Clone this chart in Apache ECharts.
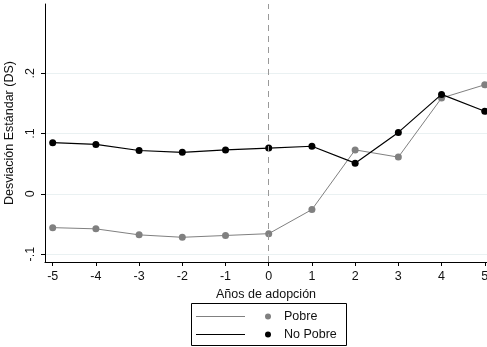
<!DOCTYPE html>
<html>
<head>
<meta charset="utf-8">
<script src="https://cdn.jsdelivr.net/npm/echarts@6/dist/echarts.min.js"></script>
<style>html,body{margin:0;padding:0;background:#fff}#c{width:487px;height:347px}</style>
</head>
<body>
<div id="c"></div>
<script>
var years = [-5, -4, -3, -2, -1, 0, 1, 2, 3, 4, 5];
var pobre = [-0.056, -0.058, -0.068, -0.072, -0.069, -0.066, -0.026, 0.073, 0.061, 0.159, 0.181];
var noPobre = [0.085, 0.082, 0.072, 0.069, 0.073, 0.076, 0.079, 0.051, 0.102, 0.165, 0.137];
var yTicks = [-0.1, 0, 0.1, 0.2];
var yTickLabels = ['-.1', '0', '.1', '.2'];
var seriesNames = ['Pobre', 'No Pobre'];

var FONT = 'Liberation Sans, Arial, sans-serif';
var FS = 12.5;
function pairs(xs, ys) { return xs.map(function (x, i) { return [x, ys[i]]; }); }

var chart = echarts.init(document.getElementById('c'), null, {renderer: 'canvas'});
chart.setOption({
  animation: false,
  backgroundColor: '#fff',
  grid: {left: 45, right: 0, top: 4, bottom: 85, containLabel: false, outerBoundsMode: 'none'},
  xAxis: {
    type: 'value', min: -5.178, max: 5.052,
    axisLine: {show: true, onZero: false, lineStyle: {color: '#000', width: 1}},
    axisTick: {show: true, length: 4, lineStyle: {color: '#000'}, customValues: years},
    axisLabel: {show: true, color: '#111', fontFamily: FONT, fontSize: FS, margin: 8, customValues: years,
      formatter: function (v) { return String(v); }},
    splitLine: {show: false},
    name: 'Años de adopción', nameLocation: 'middle', nameGap: 22,
    nameTextStyle: {color: '#111', fontFamily: FONT, fontSize: FS}
  },
  yAxis: {
    type: 'value', min: -0.113, max: 0.315,
    axisLine: {show: true, onZero: false, lineStyle: {color: '#000', width: 1}},
    axisTick: {show: true, length: 4, lineStyle: {color: '#000'}, customValues: yTicks},
    axisLabel: {show: true, color: '#111', fontFamily: FONT, fontSize: FS, rotate: 90, margin: 8,
      customValues: yTicks,
      formatter: function (v) {
        for (var i = 0; i < yTicks.length; i++) if (Math.abs(v - yTicks[i]) < 1e-9) return yTickLabels[i];
        return '';
      }},
    splitLine: {show: true, lineStyle: {color: '#eaf1f2', width: 1}},
    name: 'Desviación Estándar (DS)', nameLocation: 'middle', nameGap: 19, nameRotate: 90,
    nameTextStyle: {color: '#111', fontFamily: FONT, fontSize: FS}
  },
  series: [
    {
      name: seriesNames[0], type: 'line', data: pairs(years, pobre),
      symbol: 'circle', symbolSize: 7,
      itemStyle: {color: '#808080'}, lineStyle: {color: '#808080', width: 1},
      z: 3,
      markLine: {
        silent: true, symbol: 'none', label: {show: false},
        lineStyle: {color: '#999', type: [6, 5], width: 1},
        data: [{xAxis: 0}]
      }
    },
    {
      name: seriesNames[1], type: 'line', data: pairs(years, noPobre),
      symbol: 'circle', symbolSize: 7,
      itemStyle: {color: '#000'}, lineStyle: {color: '#000', width: 1.2},
      z: 4
    }
  ],
  graphic: [
    {type: 'rect', shape: {x: 191.5, y: 303.5, width: 155, height: 42}, style: {fill: '#fff', stroke: '#000', lineWidth: 1}},
    {type: 'line', shape: {x1: 196, y1: 316.5, x2: 245, y2: 316.5}, style: {stroke: '#808080', lineWidth: 1}},
    {type: 'circle', shape: {cx: 268, cy: 316.5, r: 3}, style: {fill: '#808080'}},
    {type: 'text', style: {x: 284, y: 316.5, text: seriesNames[0], fill: '#111', font: FS + 'px ' + FONT, textVerticalAlign: 'middle'}},
    {type: 'line', shape: {x1: 196, y1: 334.5, x2: 245, y2: 334.5}, style: {stroke: '#000', lineWidth: 1.2}},
    {type: 'circle', shape: {cx: 268, cy: 334.5, r: 3}, style: {fill: '#000'}},
    {type: 'text', style: {x: 284, y: 334.5, text: seriesNames[1], fill: '#111', font: FS + 'px ' + FONT, textVerticalAlign: 'middle'}}
  ]
});
</script>
</body>
</html>
